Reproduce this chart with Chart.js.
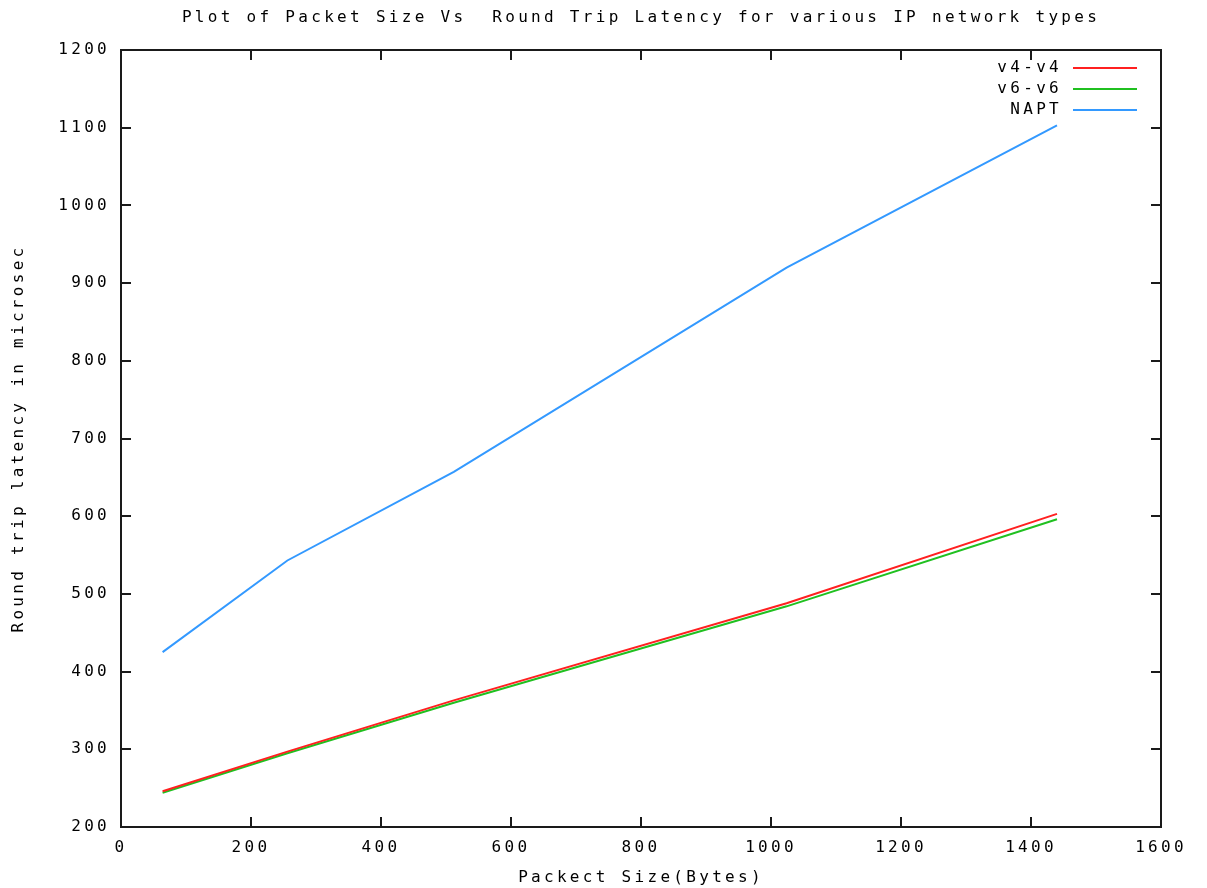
<!DOCTYPE html>
<html>
<head>
<meta charset="utf-8">
<title>Packet Size Vs Round Trip Latency</title>
<script src="https://cdn.jsdelivr.net/npm/chart.js@4/dist/chart.umd.min.js"></script>
<style>
  html, body { margin: 0; padding: 0; background: #fff; }
  #wrap { width: 1207px; height: 888px; }
</style>
</head>
<body>
<div id="wrap"><canvas id="chart" width="1207" height="888"></canvas></div>
<script>
/* ── data ── */
const packetSizes = [64, 256, 512, 1024, 1440];
const v4v4  = [246, 297, 363, 488, 603];
const v6v6  = [244, 295, 360, 484, 596];
const napt  = [425, 543, 657, 920, 1103];

const xTicks = { min: 0, max: 1600, step: 200 };
const yTicks = { min: 200, max: 1200, step: 100 };

const TITLE = 'Plot of Packet Size Vs  Round Trip Latency for various IP network types';
const FONT  = { family: '"DejaVu Sans Mono", monospace', size: 16, lineHeight: 1.2 };
const INK   = '#000';
const SPACING = '3.3px';

const toPoints = ys => ys.map((y, i) => ({ x: packetSizes[i], y }));

/* gnuplot look: spaced letters, framed box, inward ticks on all sides, legend text left of sample */
const gnuplotLook = {
  id: 'gnuplotLook',
  beforeLayout(chart) { chart.ctx.letterSpacing = SPACING; },
  beforeDraw(chart)   { chart.ctx.letterSpacing = SPACING; },
  afterDatasetsDraw(chart) {
    const { ctx, chartArea: a, scales: { x, y } } = chart;
    const tl = 10;
    ctx.save();
    ctx.strokeStyle = '#1a1a1a';
    ctx.lineWidth = 2;
    ctx.strokeRect(a.left, a.top, a.right - a.left, a.bottom - a.top);
    ctx.beginPath();
    x.ticks.forEach(t => {
      const px = Math.round(x.getPixelForValue(t.value));
      if (px <= a.left + 1 || px >= a.right - 1) return;
      ctx.moveTo(px, a.bottom); ctx.lineTo(px, a.bottom - tl);
      ctx.moveTo(px, a.top);    ctx.lineTo(px, a.top + tl);
    });
    y.ticks.forEach(t => {
      const py = Math.round(y.getPixelForValue(t.value));
      if (py <= a.top + 1 || py >= a.bottom - 1) return;
      ctx.moveTo(a.left, py);  ctx.lineTo(a.left + tl, py);
      ctx.moveTo(a.right, py); ctx.lineTo(a.right - tl, py);
    });
    ctx.stroke();

    ctx.font = `${FONT.size}px ${FONT.family}`;
    ctx.textBaseline = 'middle';
    ctx.fillStyle = INK;

    // title, centred over the plot box
    ctx.textAlign = 'center';
    ctx.fillText(TITLE, (a.left + a.right) / 2, 18);

    // legend
    ctx.textAlign = 'right';
    chart.data.datasets.forEach((ds, i) => {
      const ry = a.top + 18 + i * 21;
      ctx.fillStyle = INK;
      ctx.fillText(ds.label, a.right - 99, ry);
      ctx.strokeStyle = ds.borderColor;
      ctx.lineWidth = 2;
      ctx.beginPath();
      ctx.moveTo(a.right - 88, ry);
      ctx.lineTo(a.right - 24, ry);
      ctx.stroke();
    });
    ctx.restore();
  }
};

Chart.defaults.font = FONT;
Chart.defaults.color = INK;

new Chart(document.getElementById('chart'), {
  type: 'line',
  data: {
    datasets: [
      { label: 'v4-v4', data: toPoints(v4v4), borderColor: '#ff2020' },
      { label: 'v6-v6', data: toPoints(v6v6), borderColor: '#20c020' },
      { label: 'NAPT',  data: toPoints(napt), borderColor: '#3399ff' },
    ].map(d => ({ ...d, borderWidth: 2, pointRadius: 0, tension: 0, fill: false })),
  },
  options: {
    responsive: false,
    animation: false,
    layout: { padding: { top: 50, left: 0, right: 46, bottom: 0 } },
    plugins: {
      legend: { display: false },
      tooltip: { enabled: false },
      title: { display: false },
    },
    scales: {
      x: {
        type: 'linear',
        min: xTicks.min, max: xTicks.max,
        ticks: { stepSize: xTicks.step, padding: 11, maxRotation: 0, color: INK, callback: v => String(v) },
        grid: { display: false, drawTicks: false },
        border: { display: false },
        title: { display: true, text: 'Packect Size(Bytes)', color: INK, padding: { top: 0, bottom: 1 } },
        afterFit: s => { s.height = 61; },
      },
      y: {
        min: yTicks.min, max: yTicks.max,
        ticks: { stepSize: yTicks.step, padding: 11, color: INK, callback: v => String(v) },
        grid: { display: false, drawTicks: false },
        border: { display: false },
        title: { display: true, text: 'Round trip latency in microsec', color: INK, padding: { top: 9, bottom: 0 } },
        afterFit: s => { s.width = 121; },
      },
    },
  },
  plugins: [gnuplotLook],
});
</script>
</body>
</html>
